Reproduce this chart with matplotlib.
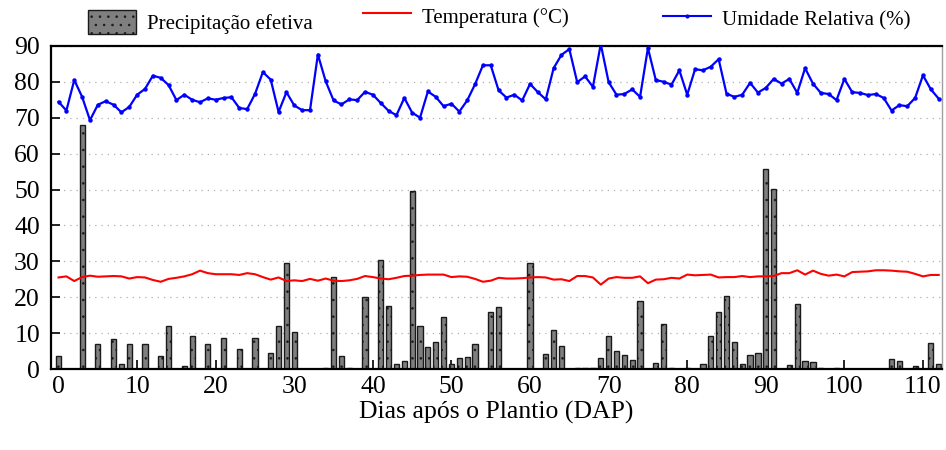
import matplotlib
matplotlib.use('agg')
import matplotlib.pyplot as plt
from matplotlib.lines import Line2D
from matplotlib.patches import Patch
import numpy as np

plt.rcParams['font.family'] = ['Liberation Serif', 'DejaVu Serif']
plt.rcParams['hatch.color'] = '#2a2a2a'
plt.rcParams['hatch.linewidth'] = 0.6

# Dias apos o plantio
dias = np.arange(0, 113)

# Precipitacao efetiva (mm), dias sem chuva = 0
chuva_dias = [0, 3, 5, 7, 8, 9, 11, 13, 14, 16, 17, 19, 21, 23, 25, 27, 28, 29, 30,
              34, 35, 36, 37, 39, 41, 42, 43, 44, 45, 46, 47, 48, 49, 50, 51, 52, 53,
              55, 56, 60, 62, 63, 64, 66, 67, 68, 69, 70, 71, 72, 73, 74, 76, 77, 78,
              80, 82, 83, 84, 85, 86, 87, 88, 89, 90, 91, 93, 94, 95, 96, 97, 99,
              106, 107, 109, 111, 112]
chuva_mm = [3.5, 68.0, 7.1, 8.4, 1.4, 7.1, 7.1, 3.5, 12.0, 0.8, 9.1, 7.1, 8.7, 5.6, 8.7, 4.5, 12.0, 29.5, 10.2,
            0.3, 25.7, 3.5, 0.3, 20.0, 30.4, 17.5, 1.4, 2.1, 49.6, 12.0, 6.0, 7.5, 14.4, 1.4, 3.2, 3.3, 7.0,
            15.8, 17.2, 29.5, 4.2, 10.9, 6.5, 0.3, 0.3, 0.3, 3.0, 9.1, 5.1, 4.0, 2.5, 18.9, 1.8, 12.5, 0.3,
            0.3, 1.4, 9.2, 15.8, 20.4, 7.4, 1.4, 4.0, 4.4, 55.7, 50.1, 1.2, 18.1, 2.1, 2.0, 0.3, 0.3,
            2.7, 2.1, 0.9, 7.3, 1.4]

# Temperatura media (graus C)
temperatura = [25.5, 25.8, 24.5, 25.6, 26.0, 25.7, 25.8, 25.9, 25.8, 25.2,
               25.6, 25.5, 24.8, 24.3, 25.1, 25.4, 25.8, 26.4, 27.4, 26.7,
               26.4, 26.4, 26.4, 26.2, 26.7, 26.4, 25.6, 24.9, 25.5, 24.5,
               24.7, 24.5, 25.1, 24.6, 25.2, 24.6, 24.5, 24.7, 25.1, 25.9,
               25.6, 25.2, 25.0, 25.4, 25.9, 26.0, 26.2, 26.3, 26.3, 26.3,
               25.6, 25.8, 25.7, 25.1, 24.3, 24.6, 25.4, 25.2, 25.2, 25.3,
               25.5, 25.6, 25.5, 24.9, 25.0, 24.5, 25.9, 25.9, 25.5, 23.5,
               25.2, 25.6, 25.4, 25.4, 25.8, 23.9, 24.9, 25.0, 25.4, 25.2,
               26.3, 26.1, 26.2, 26.3, 25.5, 25.6, 25.6, 25.9, 25.6, 25.8,
               25.8, 25.9, 26.7, 26.7, 27.5, 26.3, 27.4, 26.5, 26.0, 26.3,
               25.8, 27.0, 27.1, 27.2, 27.5, 27.5, 27.4, 27.2, 27.1, 26.5,
               25.8, 26.2, 26.2]

# Umidade relativa (%)
umidade = [74.4, 72.0, 80.5, 75.8, 69.3, 73.6, 74.6, 73.6, 71.5, 73.0,
           76.4, 78.0, 81.7, 81.1, 79.1, 74.9, 76.4, 75.0, 74.3, 75.4,
           75.0, 75.5, 75.7, 72.7, 72.4, 76.6, 82.7, 80.6, 71.6, 77.1,
           73.4, 72.1, 72.1, 87.6, 80.1, 74.8, 73.7, 75.1, 74.9, 77.2,
           76.4, 74.1, 71.9, 70.7, 75.5, 71.4, 70.0, 77.3, 75.8, 73.2,
           73.9, 71.7, 74.8, 79.3, 84.6, 84.6, 77.6, 75.6, 76.4, 74.8,
           79.4, 77.1, 75.1, 83.8, 87.5, 89.1, 79.9, 81.5, 78.6, 90.5,
           79.9, 76.4, 76.6, 77.9, 75.8, 89.4, 80.5, 80.0, 79.2, 83.2,
           76.4, 83.5, 83.2, 84.2, 86.3, 76.7, 75.8, 76.4, 79.7, 77.0,
           78.3, 80.8, 79.5, 80.8, 76.9, 83.8, 79.5, 76.9, 76.6, 74.9,
           80.8, 77.1, 76.9, 76.3, 76.6, 75.5, 72.0, 73.5, 73.2, 75.5,
           81.8, 77.9, 75.3]

fig = plt.figure(figsize=(9.46, 4.5), dpi=100)
ax = fig.add_axes([0.054, 0.18, 0.942, 0.718])
ax.set_axisbelow(True)

ax.bar(chuva_dias, chuva_mm, width=0.66, color='#7f7f7f', edgecolor='#1a1a1a',
       linewidth=1.0, hatch='..', zorder=2)
ax.plot(dias, temperatura, color='#ff0000', lw=1.5, zorder=3)
ax.plot(dias, umidade, color='#0000ff', lw=1.6, marker='o', markersize=2.2, zorder=4)

ax.set_xlim(-0.95, 112.45)
ax.set_ylim(0, 90)
ax.set_yticks(np.arange(0, 91, 10))
ax.set_xticks(np.arange(0, 111, 10))
ax.grid(axis='y', linestyle=(0, (1, 4)), color='#b0b0b0', lw=0.9)
ax.tick_params(axis='both', direction='in', length=6.5, width=1.2, labelsize=18.5)
ax.tick_params(axis='y', pad=8)
ax.tick_params(axis='x', pad=5)

for s in ['left', 'top', 'bottom']:
    ax.spines[s].set_linewidth(1.6)
    ax.spines[s].set_color('black')
ax.spines['right'].set_color('#a0a0a0')
ax.spines['right'].set_linewidth(1.0)

ax.set_xlabel('Dias após o Plantio (DAP)', fontsize=18.5, labelpad=2)

# legenda: tres entradas posicionadas separadamente, como no original
entradas = [
    (Patch(facecolor='#7f7f7f', edgecolor='#1a1a1a', hatch='..', label='Precipitação efetiva'),
     (88 / 946, 1 - 22 / 450)),
    (Line2D([], [], color='#ff0000', lw=1.5, label='Temperatura (°C)'),
     (363 / 946, 1 - 16 / 450)),
    (Line2D([], [], color='#0000ff', lw=1.5, marker='o', markersize=2, label='Umidade Relativa (%)'),
     (663 / 946, 1 - 19 / 450)),
]
for h, pos in entradas:
    fig.legend(handles=[h], loc='center left', bbox_to_anchor=pos, frameon=False,
               fontsize=15, handlelength=2.3, handleheight=1.45, handletextpad=0.55,
               borderpad=0, borderaxespad=0)

fig.savefig('out.png', dpi=100)
